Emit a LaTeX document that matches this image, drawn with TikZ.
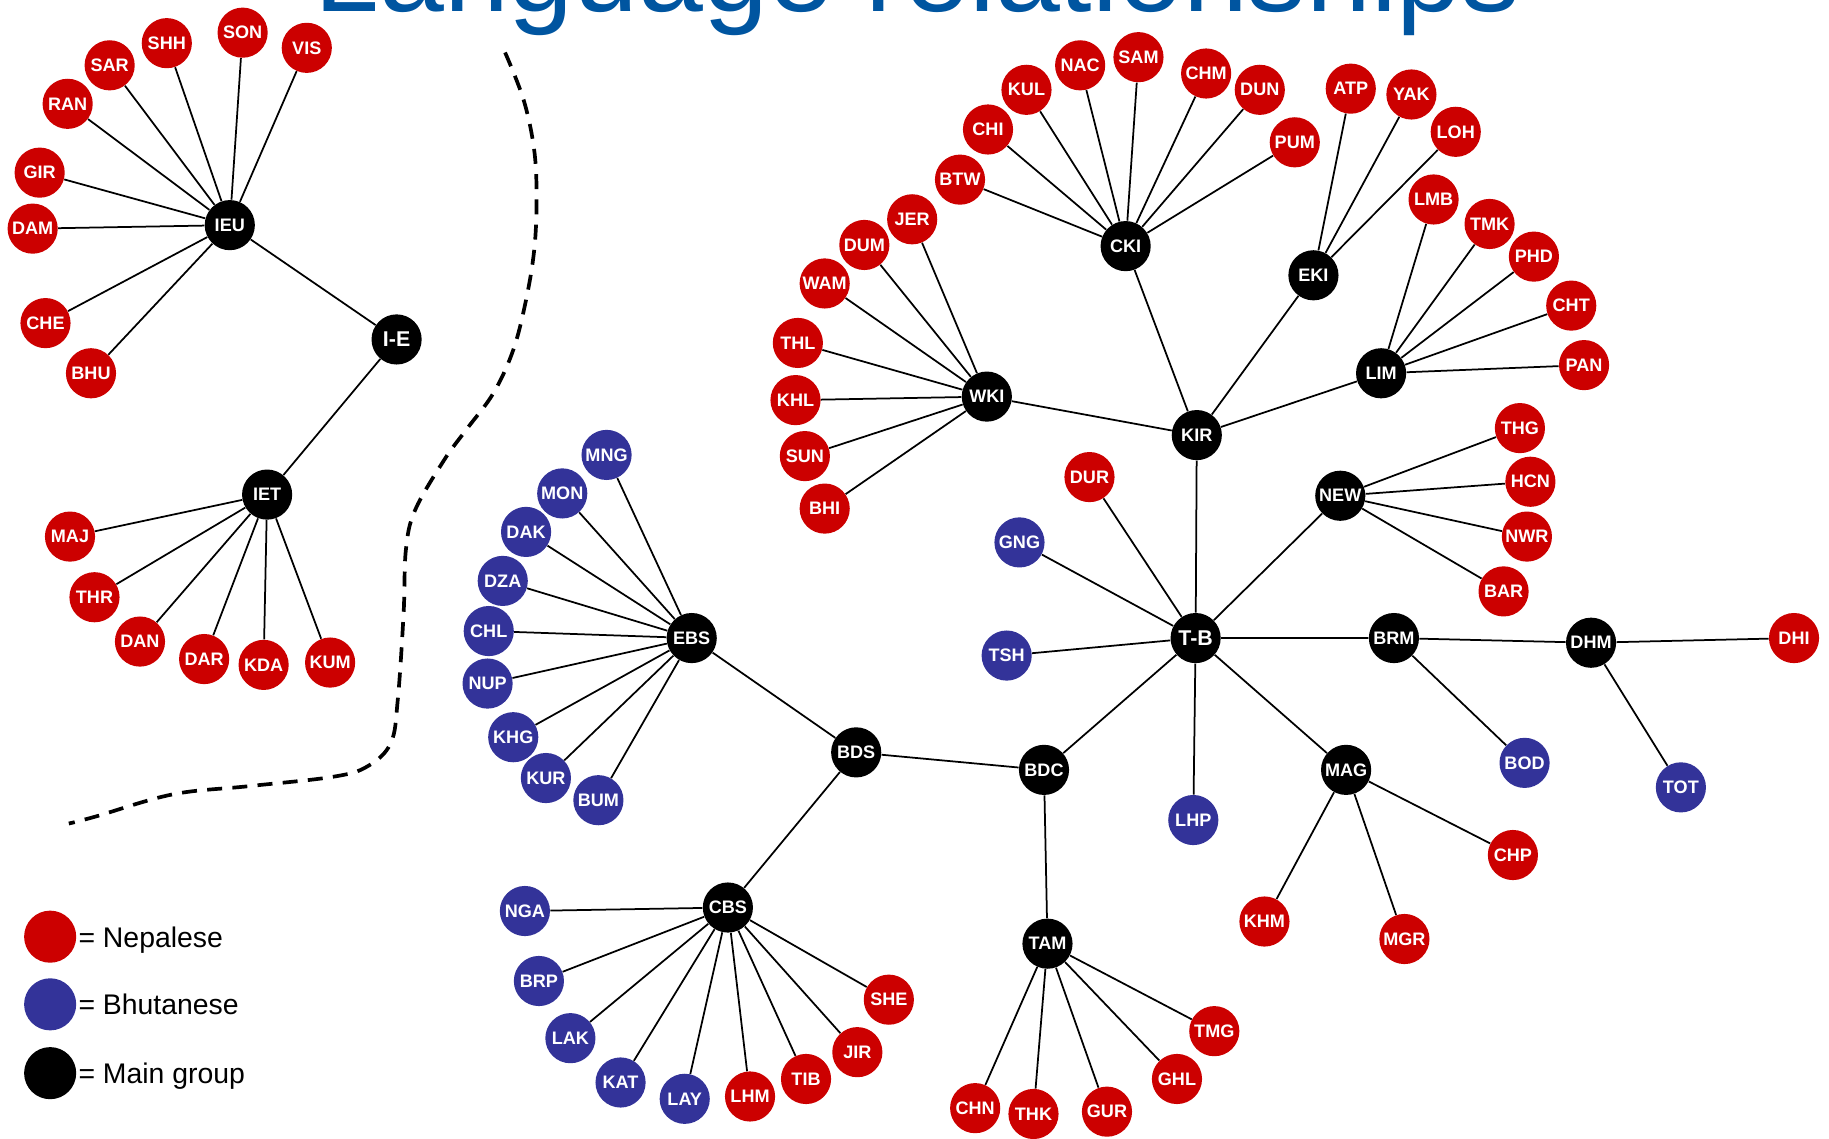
\documentclass[tikz,border=0pt]{standalone}
\usepackage{fontspec}
\setmainfont{Liberation Sans}
\definecolor{nepred}{RGB}{204,0,0}
\definecolor{bhublue}{RGB}{51,51,153}
\definecolor{titleblue}{RGB}{0,85,160}

\begin{document}
\begin{tikzpicture}[x=0.6pt,y=-0.6pt,
    langnode/.style={circle,minimum size=25.8pt,inner sep=0pt,text=white,
      font=\bfseries\fontsize{9.3}{10}\selectfont},
    nep/.style={langnode,fill=nepred},
    bhu/.style={langnode,fill=bhublue},
    grp/.style={langnode,fill=black},
    biggrp/.style={grp,font=\bfseries\fontsize{11}{12}\selectfont},
    branch/.style={line width=0.9pt},
    keydot/.style={circle,minimum size=26.8pt,inner sep=0pt},
    keytext/.style={anchor=base west,inner sep=0pt,font=\fontsize{14.6}{16}\selectfont}]
    \useasboundingbox (0,0) rectangle (1568,976);
    \clip (0,0) rectangle (1568,976);

    \node (title) at (786.5,10) [anchor=base,inner sep=0pt,text=titleblue,
      font=\fontsize{60}{70}\selectfont] {Language relationships};

    \draw[line width=1.9pt,dash pattern=on 7.7pt off 5.3pt] plot[smooth,tension=0.6] coordinates {
      (433,45) (449,86) (458,129) (460,171) (458,214) (451,257) (440,300)
      (423,337) (400,368) (381,394) (356,437) (348,471) (346,526) (341,600)
      (335,637) (315,657) (285,666) (213,674) (148,681) (82,700) (59,706)};

    \node (ie) at (340,291) [biggrp] {I-E};
    \node (ieu) at (197,193) [grp] {IEU};
    \node (iet) at (229,424) [grp] {IET};
    \node (son) at (208,28) [nep] {SON};
    \node (vis) at (263,41) [nep] {VIS};
    \node (shh) at (143,37) [nep] {SHH};
    \node (sar) at (94,56) [nep] {SAR};
    \node (ran) at (58,89) [nep] {RAN};
    \node (gir) at (34,148) [nep] {GIR};
    \node (dam) at (28,196) [nep] {DAM};
    \node (che) at (39,277) [nep] {CHE};
    \node (bhu) at (78,320) [nep] {BHU};
    \node (maj) at (60,460) [nep] {MAJ};
    \node (thr) at (81,512) [nep] {THR};
    \node (dan) at (120,550) [nep] {DAN};
    \node (dar) at (175,565) [nep] {DAR};
    \node (kda) at (226,570) [nep] {KDA};
    \node (kum) at (283,568) [nep] {KUM};

    \node (tb) at (1025,547) [biggrp] {T-B};
    \node (kir) at (1026,373) [grp] {KIR};
    \node (cki) at (965,211) [grp] {CKI};
    \node (eki) at (1126,236) [grp] {EKI};
    \node (wki) at (846,340) [grp] {WKI};
    \node (lim) at (1184,320) [grp] {LIM};
    \node (new) at (1149,425) [grp] {NEW};
    \node (brm) at (1195,547) [grp] {BRM};
    \node (dhm) at (1364,551) [grp] {DHM};
    \node (mag) at (1154,660) [grp] {MAG};
    \node (bdc) at (895,660) [grp] {BDC};
    \node (bds) at (734,645) [grp] {BDS};
    \node (ebs) at (593,547) [grp] {EBS};
    \node (cbs) at (624,778) [grp] {CBS};
    \node (tam) at (898,809) [grp] {TAM};

    \node (btw) at (823,154) [nep] {BTW};
    \node (chi) at (847,111) [nep] {CHI};
    \node (kul) at (880,77) [nep] {KUL};
    \node (nac) at (926,56) [nep] {NAC};
    \node (sam) at (976,49) [nep] {SAM};
    \node (chm) at (1034,63) [nep] {CHM};
    \node (dun) at (1080,77) [nep] {DUN};
    \node (pum) at (1110,122) [nep] {PUM};
    \node (atp) at (1158,76) [nep] {ATP};
    \node (yak) at (1210,81) [nep] {YAK};
    \node (loh) at (1248,113) [nep] {LOH};
    \node (lmb) at (1229,171) [nep] {LMB};
    \node (tmk) at (1277,192) [nep] {TMK};
    \node (phd) at (1315,220) [nep] {PHD};
    \node (cht) at (1347,262) [nep] {CHT};
    \node (pan) at (1358,313) [nep] {PAN};
    \node (jer) at (782,188) [nep] {JER};
    \node (dum) at (741,210) [nep] {DUM};
    \node (wam) at (707,243) [nep] {WAM};
    \node (thl) at (684,294) [nep] {THL};
    \node (khl) at (682,343) [nep] {KHL};
    \node (sun) at (690,391) [nep] {SUN};
    \node (bhi) at (707,436) [nep] {BHI};
    \node (dur) at (934,409) [nep] {DUR};
    \node (gng) at (874,465) [bhu] {GNG};
    \node (tsh) at (863,562) [bhu] {TSH};
    \node (lhp) at (1023,703) [bhu] {LHP};
    \node (thg) at (1303,367) [nep] {THG};
    \node (hcn) at (1312,413) [nep] {HCN};
    \node (nwr) at (1309,460) [nep] {NWR};
    \node (bar) at (1289,507) [nep] {BAR};
    \node (bod) at (1307,654) [bhu] {BOD};
    \node (dhi) at (1538,547) [nep] {DHI};
    \node (tot) at (1441,675) [bhu] {TOT};
    \node (chp) at (1297,733) [nep] {CHP};
    \node (khm) at (1084,790) [nep] {KHM};
    \node (mgr) at (1204,805) [nep] {MGR};

    \node (mng) at (520,390) [bhu] {MNG};
    \node (mon) at (482,423) [bhu] {MON};
    \node (dak) at (451,456) [bhu] {DAK};
    \node (dza) at (431,498) [bhu] {DZA};
    \node (chl) at (419,541) [bhu] {CHL};
    \node (nup) at (418,586) [bhu] {NUP};
    \node (khg) at (440,632) [bhu] {KHG};
    \node (kur) at (468,667) [bhu] {KUR};
    \node (bum) at (513,686) [bhu] {BUM};
    \node (nga) at (450,781) [bhu] {NGA};
    \node (brp) at (462,841) [bhu] {BRP};
    \node (lak) at (489,890) [bhu] {LAK};
    \node (kat) at (532,928) [bhu] {KAT};
    \node (lay) at (587,942) [bhu] {LAY};
    \node (lhm) at (643,940) [nep] {LHM};
    \node (tib) at (691,925) [nep] {TIB};
    \node (jir) at (735,902) [nep] {JIR};
    \node (she) at (762,857) [nep] {SHE};
    \node (chn) at (836,950) [nep] {CHN};
    \node (thk) at (886,955) [nep] {THK};
    \node (gur) at (949,953) [nep] {GUR};
    \node (ghl) at (1009,925) [nep] {GHL};
    \node (tmg) at (1041,884) [nep] {TMG};

    \draw[branch]
    (ie) to (ieu) (ie) to (iet)
    (ieu) to (son) (ieu) to (vis) (ieu) to (shh) (ieu) to (sar) (ieu) to (ran)
    (ieu) to (gir) (ieu) to (dam) (ieu) to (che) (ieu) to (bhu)
    (iet) to (maj) (iet) to (thr) (iet) to (dan) (iet) to (dar) (iet) to (kda) (iet) to (kum);

    \draw[branch]
    (tb) to (kir) (tb) to (dur) (tb) to (gng) (tb) to (tsh) (tb) to (new)
    (tb) to (brm) (tb) to (mag) (tb) to (lhp) (tb) to (bdc)
    (kir) to (cki) (kir) to (eki) (kir) to (wki) (kir) to (lim)
    (cki) to (btw) (cki) to (chi) (cki) to (kul) (cki) to (nac)
    (cki) to (sam) (cki) to (chm) (cki) to (dun) (cki) to (pum)
    (eki) to (atp) (eki) to (yak) (eki) to (loh)
    (lim) to (lmb) (lim) to (tmk) (lim) to (phd) (lim) to (cht) (lim) to (pan)
    (wki) to (jer) (wki) to (dum) (wki) to (wam) (wki) to (thl)
    (wki) to (khl) (wki) to (sun) (wki) to (bhi)
    (new) to (thg) (new) to (hcn) (new) to (nwr) (new) to (bar)
    (brm) to (dhm) (brm) to (bod) (dhm) to (dhi) (dhm) to (tot)
    (mag) to (chp) (mag) to (khm) (mag) to (mgr)
    (bdc) to (bds) (bdc) to (tam) (bds) to (ebs) (bds) to (cbs);

    \draw[branch]
    (ebs) to (mng) (ebs) to (mon) (ebs) to (dak) (ebs) to (dza) (ebs) to (chl)
    (ebs) to (nup) (ebs) to (khg) (ebs) to (kur) (ebs) to (bum)
    (cbs) to (nga) (cbs) to (brp) (cbs) to (lak) (cbs) to (kat) (cbs) to (lay)
    (cbs) to (lhm) (cbs) to (tib) (cbs) to (jir) (cbs) to (she)
    (tam) to (chn) (tam) to (thk) (tam) to (gur) (tam) to (ghl) (tam) to (tmg);

    \node (keynep) at (43,803) [keydot,fill=nepred] {};
    \node (keybhu) at (43,861) [keydot,fill=bhublue] {};
    \node (keygrp) at (43,920) [keydot,fill=black] {};
    \node (nepnote) at (67,812) [keytext] {= Nepalese};
    \node (bhunote) at (67,870) [keytext] {= Bhutanese};
    \node (grpnote) at (67,929) [keytext] {= Main group};
  \end{tikzpicture}
\end{document}
